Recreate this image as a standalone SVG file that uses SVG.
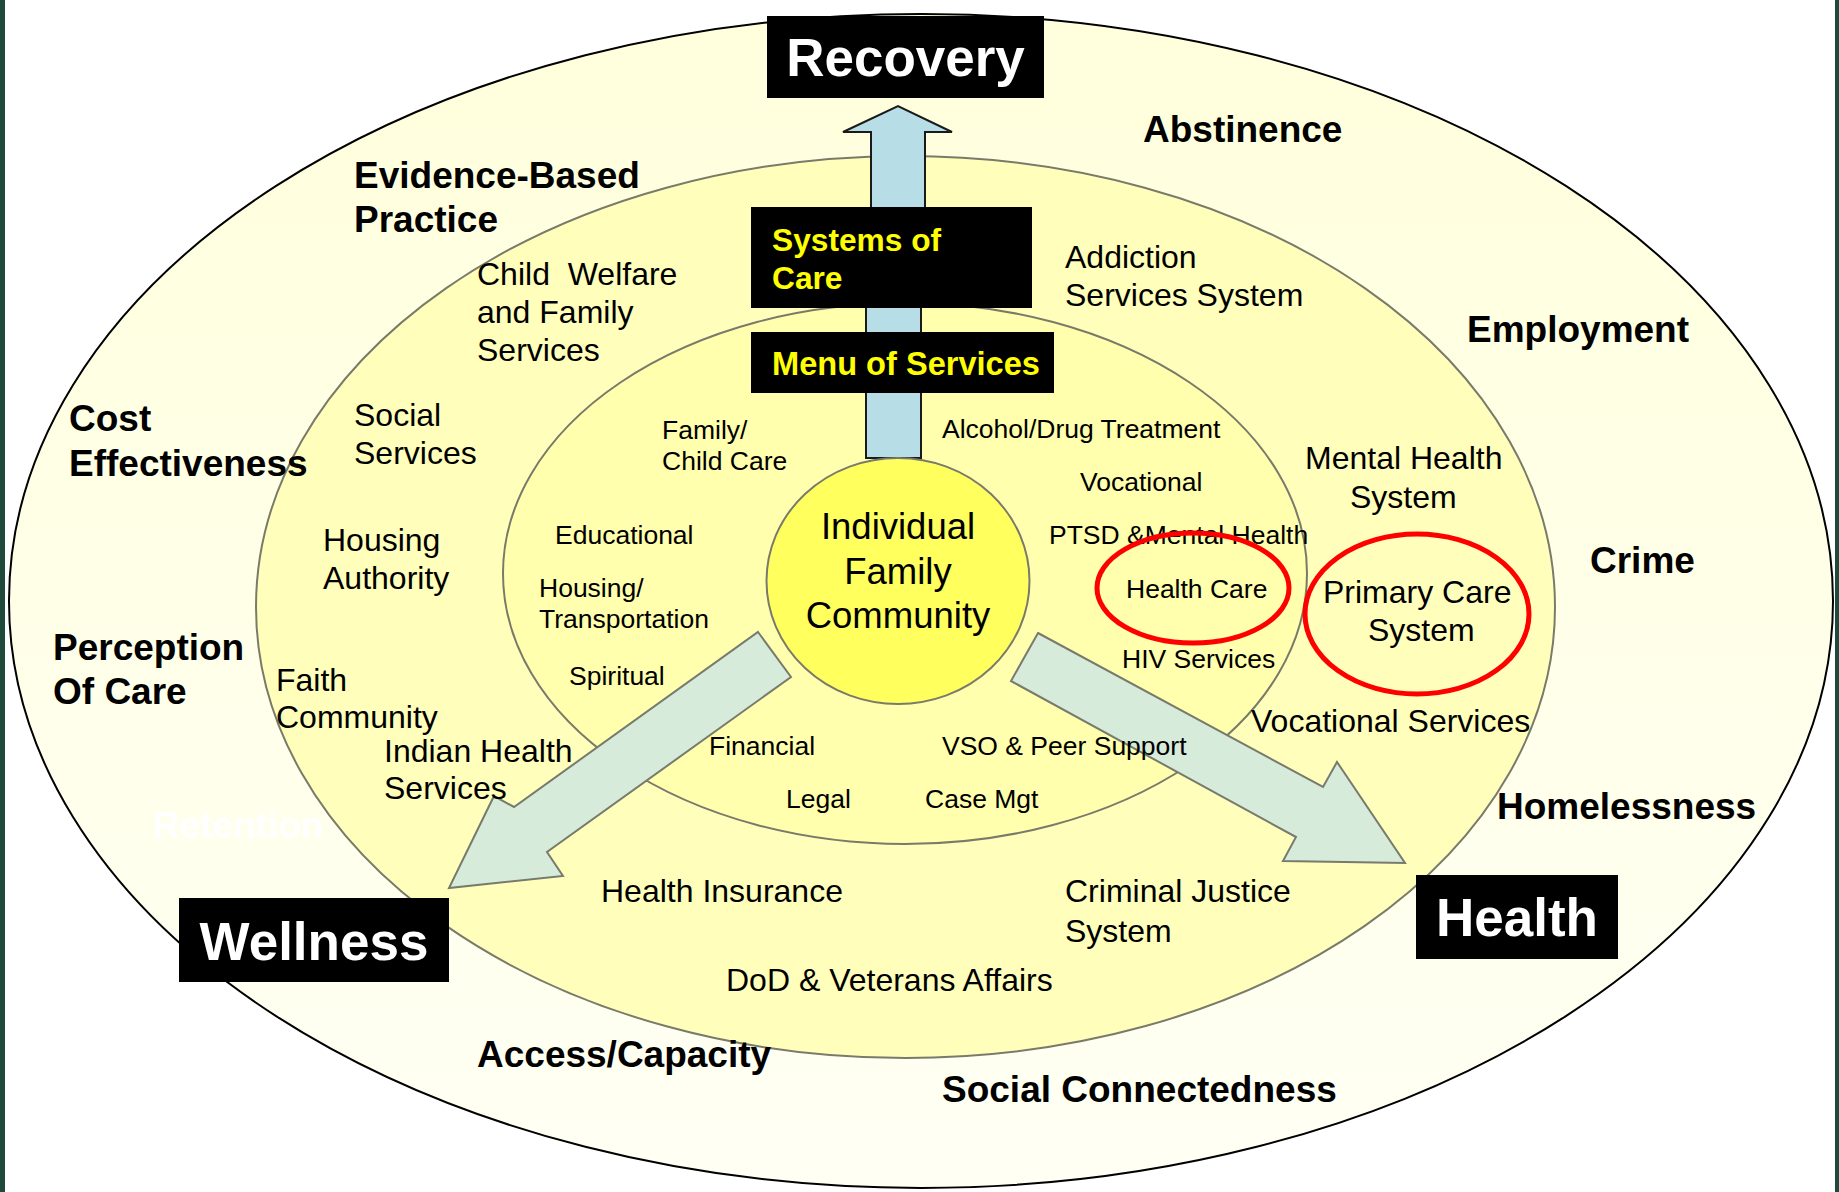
<svg xmlns="http://www.w3.org/2000/svg" width="1839" height="1192" viewBox="0 0 1839 1192">
<defs>
<linearGradient id="gOuter" x1="0" y1="0" x2="0" y2="1">
<stop offset="0" stop-color="#FFFFDC"/>
<stop offset="1" stop-color="#FFFFF4"/>
</linearGradient>
<style>
.b{font-family:"Liberation Sans",Arial,sans-serif;font-weight:bold;font-size:37px;fill:#000}
.r{font-family:"Liberation Sans",Arial,sans-serif;font-size:32px;fill:#000}
.s{font-family:"Liberation Sans",Arial,sans-serif;font-size:26.5px;fill:#000}
.c{font-family:"Liberation Sans",Arial,sans-serif;font-size:36.5px;fill:#000;text-anchor:middle}
.big{font-family:"Liberation Sans",Arial,sans-serif;font-weight:bold;font-size:53px;fill:#fff}
.ylw{font-family:"Liberation Sans",Arial,sans-serif;font-weight:bold;font-size:31.7px;fill:#FFFF00}
.box{fill:#000}
.garrow{fill:#D6EBDA;stroke:#777a6c;stroke-width:2;stroke-linejoin:miter}
.barrow{fill:#B7DDE6;stroke:#1a1a1a;stroke-width:2}
.ring{stroke:#7a7a6a;stroke-width:2}
.red{fill:none;stroke:#FF0000;stroke-width:5}
</style>
</defs>
<rect x="0" y="0" width="1839" height="1192" fill="#FFFFFF"/>
<rect x="0" y="0" width="5" height="1192" fill="#1F4A3B"/>
<rect x="1835" y="0" width="4" height="1192" fill="#1F4A3B"/>

<g id="rings">
<ellipse id="outer" cx="921" cy="601" rx="912" ry="587" fill="url(#gOuter)" stroke="#000" stroke-width="2"/>
<ellipse id="middle" class="ring" cx="905.5" cy="607" rx="649.5" ry="451" fill="#FFFFBB"/>
<ellipse id="inner" class="ring" cx="905" cy="573.5" rx="402" ry="270.5" fill="#FFFFAD"/>
</g>

<g id="connectors">
<rect class="barrow" x="866" y="300" width="55" height="158"/>
<polygon class="barrow" points="871,215 871,132 843,132 898,106 952,132 925,132 925,215"/>
<polygon class="garrow" points="758,632 791,677 547,852 563,876 449,888 494,796 514,807"/>
<polygon class="garrow" points="1038,633 1323,787 1337,762 1405,863 1283,861 1296,837 1011,681"/>
</g>

<g id="center">
<ellipse cx="898" cy="581" rx="131.5" ry="123" fill="#FFFF5E" stroke="#7a7a6a" stroke-width="2"/>
<text class="c" x="898" y="539">Individual</text>
<text class="c" x="898" y="584">Family</text>
<text class="c" x="898" y="628">Community</text>
</g>

<g id="recovery">
<rect class="box" x="767" y="16" width="277" height="82"/>
<text class="big" x="905.5" y="76" text-anchor="middle">Recovery</text>
</g>
<g id="systems-of-care">
<rect class="box" x="751" y="207" width="281" height="101"/>
<text class="ylw" x="772" y="251">Systems of</text>
<text class="ylw" x="772" y="289">Care</text>
</g>
<g id="menu-of-services">
<rect class="box" x="751" y="332" width="303" height="61"/>
<text class="ylw" x="772" y="375" style="font-size:32.6px">Menu of Services</text>
</g>
<g id="wellness">
<rect class="box" x="179" y="898" width="270" height="84"/>
<text class="big" x="314" y="960" text-anchor="middle">Wellness</text>
</g>
<g id="health">
<rect class="box" x="1416" y="875" width="202" height="84"/>
<text class="big" x="1517" y="936" text-anchor="middle">Health</text>
</g>

<g id="outer-labels">
<text class="b" x="1143" y="142">Abstinence</text>
<text class="b" x="354" y="188">Evidence-Based</text>
<text class="b" x="354" y="232">Practice</text>
<text class="b" x="1467" y="342">Employment</text>
<text class="b" x="69" y="431">Cost</text>
<text class="b" x="69" y="476">Effectiveness</text>
<text class="b" x="1590" y="573">Crime</text>
<text class="b" x="53" y="660">Perception</text>
<text class="b" x="53" y="704">Of Care</text>
<text class="b" x="1497" y="819">Homelessness</text>
<text class="b" x="477" y="1067">Access/Capacity</text>
<text class="b" x="942" y="1102">Social Connectedness</text>
<text class="b" x="153" y="838" style="fill:#FFFFFF">Retention</text>
</g>

<g id="system-labels">
<text class="r" x="477" y="285" xml:space="preserve">Child  Welfare</text>
<text class="r" x="477" y="323">and Family</text>
<text class="r" x="477" y="361">Services</text>
<text class="r" x="1065" y="268">Addiction</text>
<text class="r" x="1065" y="306">Services System</text>
<text class="r" x="354" y="426">Social</text>
<text class="r" x="354" y="464">Services</text>
<text class="r" x="1305" y="469">Mental Health</text>
<text class="r" x="1350" y="508">System</text>
<text class="r" x="323" y="551">Housing</text>
<text class="r" x="323" y="589">Authority</text>
<text class="r" x="1323" y="603">Primary Care</text>
<text class="r" x="1368" y="641">System</text>
<text class="r" x="276" y="691">Faith</text>
<text class="r" x="276" y="728">Community</text>
<text class="r" x="384" y="762">Indian Health</text>
<text class="r" x="384" y="799">Services</text>
<text class="r" x="1251" y="732">Vocational Services</text>
<text class="r" x="601" y="902">Health Insurance</text>
<text class="r" x="1065" y="902">Criminal Justice</text>
<text class="r" x="1065" y="942">System</text>
<text class="r" x="726" y="991">DoD &amp; Veterans Affairs</text>
</g>

<g id="service-labels">
<text class="s" x="662" y="439">Family/</text>
<text class="s" x="662" y="470">Child Care</text>
<text class="s" x="942" y="438">Alcohol/Drug Treatment</text>
<text class="s" x="1080" y="491">Vocational</text>
<text class="s" x="555" y="544">Educational</text>
<text class="s" x="1049" y="544">PTSD &amp;Mental Health</text>
<text class="s" x="539" y="597">Housing/</text>
<text class="s" x="539" y="628">Transportation</text>
<text class="s" x="1126" y="598">Health Care</text>
<text class="s" x="569" y="685">Spiritual</text>
<text class="s" x="1122" y="668">HIV Services</text>
<text class="s" x="709" y="755">Financial</text>
<text class="s" x="942" y="755">VSO &amp; Peer Support</text>
<text class="s" x="786" y="808">Legal</text>
<text class="s" x="925" y="808">Case Mgt</text>
</g>

<g id="highlights">
<ellipse class="red" cx="1193" cy="588" rx="96" ry="55"/>
<ellipse class="red" cx="1417" cy="614" rx="112" ry="80"/>
</g>
</svg>
